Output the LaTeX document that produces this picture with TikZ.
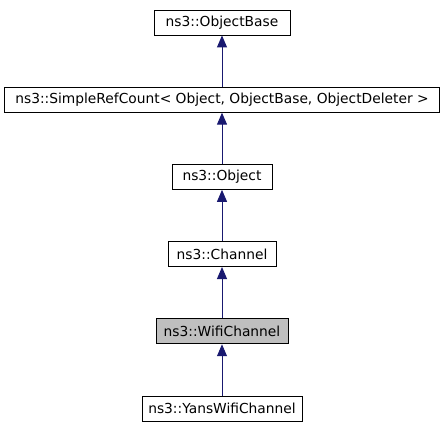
\documentclass[tikz,border=0pt]{standalone}
\usepackage{fontspec}
\setmainfont{DejaVu Sans}
\usetikzlibrary{arrows.meta}
\definecolor{edgeblue}{HTML}{191970}
\definecolor{curgrey}{HTML}{BFBFBF}
\tikzset{
  cls/.style={draw=black,line width=0.9pt,fill=white,minimum height=25pt,inner xsep=3pt,font=\fontsize{13.8pt}{16pt}\selectfont},
  inh/.style={draw=edgeblue,line width=1pt,-{Triangle[length=12pt,width=10pt]}}
}

\begin{document}
\begin{tikzpicture}[x=1pt,y=-1pt]
            \useasboundingbox (0,0) rectangle (445,427);
            \node[cls,minimum width=136pt] (objbase) at (222,22.5) {ns3::ObjectBase};
            \node[cls,minimum width=435pt] (refcount) at (222,99.7) {ns3::SimpleRefCount< Object, ObjectBase, ObjectDeleter >};
            \node[cls,minimum width=100pt] (object) at (222,176.9) {ns3::Object};
            \node[cls,minimum width=108pt] (channel) at (222,254.1) {ns3::Channel};
            \node[cls,minimum width=132pt,fill=curgrey] (wifi) at (222,331.3) {ns3::WifiChannel};
            \node[cls,minimum width=160pt] (yans) at (222,408.5) {ns3::YansWifiChannel};
            \draw[inh] (refcount) -- (objbase);
            \draw[inh] (object) -- (refcount);
            \draw[inh] (channel) -- (object);
            \draw[inh] (wifi) -- (channel);
            \draw[inh] (yans) -- (wifi);
        \end{tikzpicture}
\end{document}
